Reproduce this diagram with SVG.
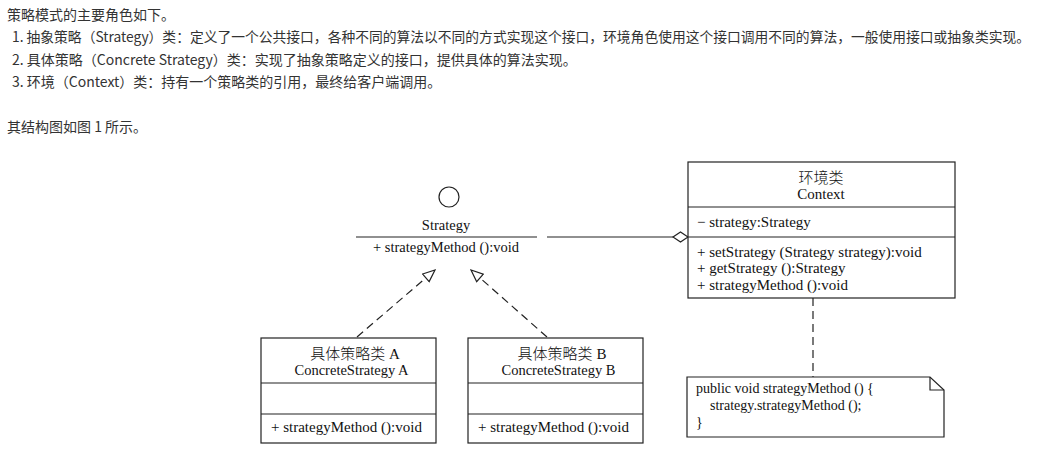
<svg xmlns="http://www.w3.org/2000/svg" width="1041" height="455" viewBox="0 0 1041 455">
<style>
.intro{font-family:"Noto Sans CJK SC","Microsoft YaHei",sans-serif;font-size:14px;fill:#333}
.t{font-family:"Liberation Serif","Noto Sans CJK SC",serif;font-size:15px;fill:#111}
.s{font-size:14.5px}
.n{font-size:14px}
.cj{font-family:"Noto Sans CJK SC",sans-serif;font-weight:300;font-size:15px}
.c{text-anchor:middle}
.box{fill:#fff;stroke:#222;stroke-width:1.2}
.ln{fill:none;stroke:#222;stroke-width:1.2}
.dash{fill:none;stroke:#222;stroke-width:1.2;stroke-dasharray:8,5}
</style>
<defs>
<marker id="tri" viewBox="0 0 14 12" refX="13" refY="6" markerWidth="14" markerHeight="12" markerUnits="userSpaceOnUse" orient="auto">
<path d="M1,1 L13,6 L1,11 Z" fill="#fff" stroke="#222" stroke-width="1.2" stroke-dasharray="none"/>
</marker>
<marker id="dia" viewBox="0 0 17 12" refX="16" refY="6" markerWidth="17" markerHeight="12" markerUnits="userSpaceOnUse" orient="auto">
<path d="M1,6 L8.5,1 L16,6 L8.5,11 Z" fill="#fff" stroke="#222" stroke-width="1.2"/>
</marker>
</defs>
<rect width="1041" height="455" fill="#fff"/>
<g id="intro-text">
<text class="intro" x="7" y="20">策略模式的主要角色如下。</text>
<text class="intro" x="12" y="42" textLength="1018" lengthAdjust="spacingAndGlyphs">1. 抽象策略（Strategy）类：定义了一个公共接口，各种不同的算法以不同的方式实现这个接口，环境角色使用这个接口调用不同的算法，一般使用接口或抽象类实现。</text>
<text class="intro" x="12" y="65">2. 具体策略（Concrete Strategy）类：实现了抽象策略定义的接口，提供具体的算法实现。</text>
<text class="intro" x="12" y="87">3. 环境（Context）类：持有一个策略类的引用，最终给客户端调用。</text>
<text class="intro" x="7" y="132">其结构图如图 1 所示。</text>
</g>
<g id="connectors">
<path class="dash" d="M357,337 L435,270" marker-end="url(#tri)"/>
<path class="dash" d="M547,337 L471,270" marker-end="url(#tri)"/>
<path class="ln" d="M547,237 L688,237" marker-end="url(#dia)"/>
<path class="dash" d="M813,298 L813,377"/>
</g>
<g id="strategy">
<circle cx="449" cy="197" r="10" class="box"/>
<text class="t s c" x="446" y="230">Strategy</text>
<line class="ln" x1="356" y1="237" x2="537" y2="237"/>
<text class="t s c" x="446" y="252">+ strategyMethod ():void</text>
</g>
<g id="context">
<rect class="box" x="688" y="162" width="267" height="136"/>
<line class="ln" x1="688" y1="207" x2="955" y2="207"/>
<line class="ln" x1="688" y1="237" x2="955" y2="237"/>
<text class="t c" x="821" y="183"><tspan class="cj">环境类</tspan></text>
<text class="t c" x="821" y="199">Context</text>
<text class="t" x="697" y="227">− strategy:Strategy</text>
<text class="t" x="697" y="257">+ setStrategy (Strategy strategy):void</text>
<text class="t" x="697" y="273">+ getStrategy ():Strategy</text>
<text class="t" x="697" y="290">+ strategyMethod ():void</text>
</g>
<g id="concreteA">
<rect class="box" x="261" y="338" width="175" height="105"/>
<line class="ln" x1="261" y1="383" x2="436" y2="383"/>
<line class="ln" x1="261" y1="414" x2="436" y2="414"/>
<text class="t c" x="355" y="359"><tspan class="cj">具体策略类</tspan> A</text>
<text class="t s c" x="351.5" y="375">ConcreteStrategy A</text>
<text class="t" x="271" y="432">+ strategyMethod ():void</text>
</g>
<g id="concreteB">
<rect class="box" x="468" y="338" width="175" height="105"/>
<line class="ln" x1="468" y1="383" x2="643" y2="383"/>
<line class="ln" x1="468" y1="414" x2="643" y2="414"/>
<text class="t c" x="562" y="359"><tspan class="cj">具体策略类</tspan> B</text>
<text class="t s c" x="558.5" y="375">ConcreteStrategy B</text>
<text class="t" x="478" y="432">+ strategyMethod ():void</text>
</g>
<g id="note">
<path class="box" d="M687,377 L930,377 L944,390 L944,437 L687,437 Z"/>
<path class="ln" d="M930,377 L930,390 L944,390"/>
<text class="t n" x="696" y="393">public void strategyMethod () {</text>
<text class="t n" x="710" y="410">strategy.strategyMethod ();</text>
<text class="t n" x="696" y="427">}</text>
</g>
</svg>
